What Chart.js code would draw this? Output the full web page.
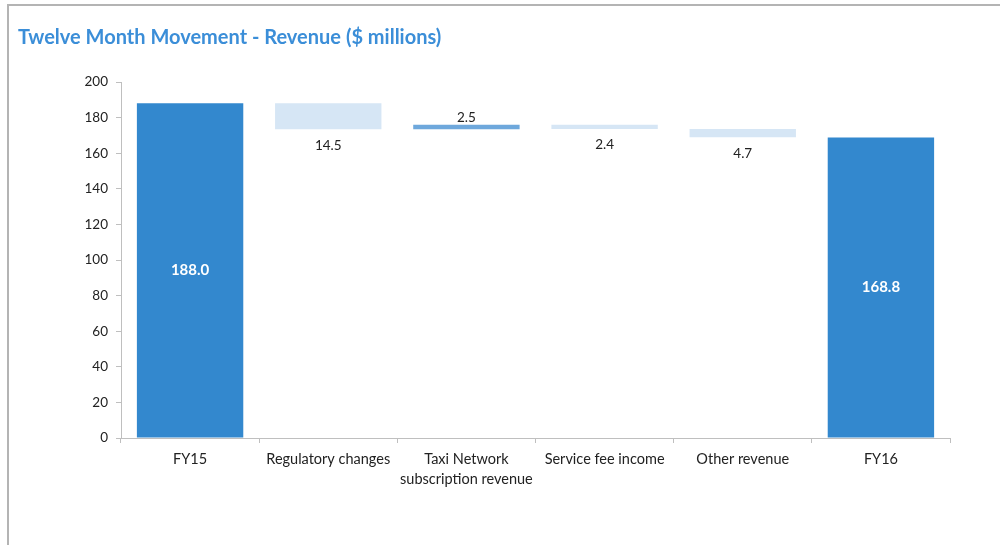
<!DOCTYPE html>
<html>
<head>
<meta charset="utf-8">
<script src="https://cdn.jsdelivr.net/npm/chart.js@4/dist/chart.umd.min.js"></script>
<style>
  html, body { margin: 0; padding: 0; background: #fff; }
  .frame {
    position: absolute; left: 7px; top: 4px; right: 0; bottom: 0;
    border-top: 2px solid #b4b4b4; border-left: 2px solid #b4b4b4;
  }
  .chart { position: absolute; left: 0; top: 0; width: 1000px; height: 545px; }
</style>
</head>
<body>
<div class="frame"></div>
<div class="chart"><canvas id="chart" width="1000" height="545"></canvas></div>
<script>
const categories = ['FY15', 'Regulatory changes', ['Taxi Network', 'subscription revenue'], 'Service fee income', 'Other revenue', 'FY16'];
const openingTotal = 188.0;
const movements = [-14.5, 2.5, -2.4, -4.7];
const closingTotal = 168.8;
const yTicks = { min: 0, max: 200, step: 20 };

const totalColor = '#3388ce';
const upColor = '#6ea8dc';
const downColor = '#d6e6f5';

// floating [from, to] ranges for the waterfall
const ranges = [[0, openingTotal]];
const labels = [openingTotal.toFixed(1)];
const colors = [totalColor];
let running = openingTotal;
movements.forEach(m => {
  ranges.push([running, running + m]);
  labels.push(Math.abs(m).toFixed(1));
  colors.push(m >= 0 ? upColor : downColor);
  running += m;
});
ranges.push([0, closingTotal]);
labels.push(closingTotal.toFixed(1));
colors.push(totalColor);

const valueLabels = {
  id: 'valueLabels',
  afterDatasetsDraw(chart) {
    const ctx = chart.ctx;
    const meta = chart.getDatasetMeta(0);
    ctx.save();
    ctx.textAlign = 'center';
    ctx.textBaseline = 'middle';
    meta.data.forEach((bar, i) => {
      const top = Math.min(bar.y, bar.base);
      const bottom = Math.max(bar.y, bar.base);
      if (i === 0 || i === meta.data.length - 1) {
        ctx.font = 'bold 15px Lato, sans-serif';
        ctx.fillStyle = '#ffffff';
        ctx.fillText(labels[i], bar.x, (top + bottom) / 2);
      } else {
        ctx.font = '13.5px Lato, sans-serif';
        ctx.fillStyle = '#222222';
        if (movements[i - 1] >= 0) {
          ctx.fillText(labels[i], bar.x, top - 7);
        } else {
          ctx.fillText(labels[i], bar.x, bottom + 16);
        }
      }
    });
    ctx.restore();
  }
};

new Chart(document.getElementById('chart'), {
  type: 'bar',
  data: {
    labels: categories,
    datasets: [{
      data: ranges,
      backgroundColor: colors,
      borderWidth: 0,
      categoryPercentage: 1,
      barPercentage: 0.77
    }]
  },
  plugins: [valueLabels],
  options: {
    responsive: false,
    animation: false,
    layout: { padding: { left: 18, right: 50, top: 0, bottom: 0 } },
    plugins: {
      legend: { display: false },
      tooltip: { enabled: false },
      title: {
        display: true,
        text: 'Twelve Month Movement - Revenue ($ millions)',
        align: 'start',
        color: '#3b8ed8',
        font: { family: 'Lato, sans-serif', size: 20, weight: 'bold', lineHeight: 1.2 },
        padding: { top: 26, bottom: 32 }
      }
    },
    scales: {
      x: {
        grid: { display: true, offset: true, drawOnChartArea: false, tickLength: 5, color: '#bfbfbf' },
        border: { color: '#bfbfbf', width: 1 },
        ticks: {
          color: '#222',
          padding: 7,
          maxRotation: 0,
          autoSkip: false,
          font: { family: 'Lato, sans-serif', size: 14.5, lineHeight: 1.35 }
        },
        afterFit(scale) { scale.height = 107; }
      },
      y: {
        min: yTicks.min,
        max: yTicks.max,
        grid: { display: true, drawOnChartArea: false, tickLength: 5, color: '#bfbfbf' },
        border: { color: '#bfbfbf', width: 1 },
        ticks: {
          stepSize: yTicks.step,
          color: '#222',
          padding: 8,
          font: { family: 'Lato, sans-serif', size: 13.5 }
        },
        afterFit(scale) { scale.width = 103; }
      }
    }
  }
});
</script>
</body>
</html>
